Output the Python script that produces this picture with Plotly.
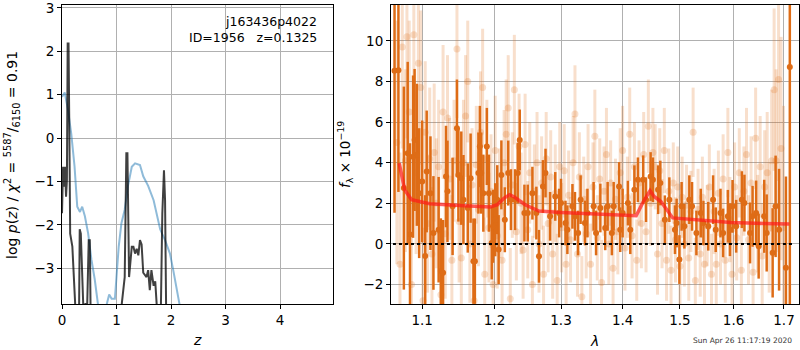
import plotly.graph_objects as go

# ---------------- left panel: redshift curves ----------------
blue_z = [0.0, 0.05, 0.11, 0.17, 0.23, 0.28, 0.33, 0.37, 0.42, 0.48, 0.54, 0.60, 0.66, 0.72, 0.78,
          0.82, 0.865, 0.91, 0.97, 1.0, 1.04, 1.09, 1.15, 1.21, 1.28, 1.34, 1.43, 1.49, 1.58, 1.68,
          1.74, 1.80, 1.89, 1.98, 2.04, 2.10, 2.15, 2.25, 2.4]
blue_val = [0.95, 1.05, 0.65, 0.1, -0.65, -1.58, -1.7, -1.58, -1.8, -2.2, -2.8, -3.25, -3.83, -4.4, -4.4,
            -3.83, -3.6, -3.7, -3.7, -3.2, -2.5, -1.96, -1.65, -1.1, -0.66, -0.58, -0.62, -0.88, -1.1, -1.43,
            -1.73, -2.1, -2.35, -2.66, -3.04, -3.5, -3.83, -4.5, -5.5]

dark_z = [0.0, 0.02, 0.037, 0.055, 0.074, 0.09, 0.104, 0.12, 0.135, 0.15, 0.19, 0.23, 0.26, 0.28, 0.31,
          0.325, 0.345, 0.36, 0.375, 0.39, 0.41, 0.43, 0.45, 0.49, 0.51, 0.53, 0.6, 0.8, 1.0, 1.08,
          1.12, 1.15, 1.18, 1.20, 1.23, 1.28, 1.31, 1.34, 1.37, 1.40, 1.43, 1.46, 1.49, 1.55, 1.58,
          1.61, 1.64, 1.68, 1.71, 1.74, 1.77, 1.81, 1.84, 1.87, 1.89, 1.91, 1.95, 2.1]
dark_val = [-1.73, -0.66, -1.12, -0.66, -1.35, -0.97, 2.18, 2.18, 0.1, -2.2, -2.5, -3.27, -3.83, -4.8, -4.5,
            -2.1, -2.2, -3.1, -3.4, -4.5, -4.6, -3.8, -4.5, -2.35, -2.35, -4.6, -5.5, -6.0, -5.5, -4.0,
            -3.5, -3.2, -0.35, -0.35, -3.2, -2.5, -2.5, -2.66, -2.55, -2.7, -2.35, -2.45, -3.1, -3.2, -3.04,
            -3.5, -3.04, -3.4, -3.3, -3.75, -4.5, -4.2, -1.73, -0.74, -1.43, -4.0, -5.5, -6.0]

# ---------------- right panel: spectrum ----------------
dk_wave = [1.064, 1.069, 1.076, 1.081, 1.084, 1.088, 1.090, 1.093, 1.096,
           1.100, 1.104, 1.106, 1.111, 1.115, 1.122, 1.125, 1.128, 1.132, 1.134,
           1.141, 1.147, 1.149, 1.153, 1.156, 1.162, 1.166, 1.170, 1.172, 1.177,
           1.179, 1.181, 1.184, 1.189, 1.192, 1.196, 1.198,
           1.201, 1.204, 1.206, 1.210, 1.215, 1.220, 1.224, 1.230, 1.234, 1.237,
           1.244, 1.249, 1.256, 1.262, 1.266, 1.272, 1.276, 1.283, 1.291, 1.297,
           1.300, 1.307, 1.310, 1.318, 1.322, 1.327, 1.331, 1.338, 1.342, 1.352,
           1.356, 1.363, 1.371, 1.375, 1.382, 1.385, 1.394, 1.396,
           1.400, 1.409, 1.413, 1.420, 1.426, 1.435, 1.440, 1.448, 1.452, 1.461,
           1.465, 1.473, 1.481, 1.491, 1.494, 1.499,
           1.503, 1.508, 1.517, 1.522, 1.530, 1.538, 1.543, 1.552, 1.561, 1.566,
           1.575, 1.580, 1.589, 1.593, 1.598,
           1.605, 1.616, 1.621, 1.632, 1.637, 1.644, 1.649, 1.660, 1.665, 1.677,
           1.683, 1.690, 1.704, 1.712]
dk_flux = [8.53, 8.56, 2.75, 4.47, 0.46, 4.3, 5.12, 4.39, 2.5,
           3.08, -0.6, 3.57, 2.5, 0.54, 0.70, -1.34, -1.42, 3.32, 2.59,
           1.85, 5.70, 3.40, 3.24, 2.18, 1.77, 3.24, -0.85, -0.85, 3.49,
           4.80, 3.49, 2.50, 4.80, 2.50, 0.05, 0.87,
           1.19, 2.18, -0.28, 3.40, 1.19, 3.49, 2.18, 2.18, 3.49, 5.12,
           1.52, 1.52, 2.50, 1.52, -0.61, 2.83, 3.49, 1.36, 2.34, 1.52,
           2.01, 1.03, 0.70, 1.85, 1.36, 0.54, 2.18, 1.03, 1.52, 1.85,
           0.54, 1.77, 0.79, 1.85, 0.54, 1.85, 2.83, 0.70,
           1.52, 2.01, 0.70, 2.67, 3.16, 3.16, 2.18, 3.32, 3.16, 2.67,
           3.00, 1.19, 2.18, 0.70, 1.03, -0.77,
           1.85, 0.87, 2.18, 1.85, 0.54, 1.52, 1.03, 0.87, 2.18, 0.70,
           1.52, 0.54, 1.36, 0.70, 1.85,
           0.87, 2.18, 2.01, 0.54, 1.36, 1.52, -0.11, 1.36, 0.54, -0.44,
           1.85, 0.70, -1.18, 8.72]
dk_err = [7.0, 6.0, 5.0, 4.5, 4.5, 4.0, 3.5, 3.5, 3.2,
          3.0, 3.0, 3.0, 2.8, 2.8, 2.6, 2.6, 2.6, 2.5, 2.5,
          2.4, 2.4, 2.3, 2.3, 2.2, 2.2, 2.2, 2.1, 2.1, 2.0,
          2.0, 2.0, 1.9, 1.9, 1.9, 1.8, 1.8,
          1.8, 1.7, 1.7, 1.7, 1.6, 1.6, 1.5, 1.5, 1.5, 1.5,
          1.4, 1.4, 1.3, 1.3, 1.3, 1.3, 1.2, 1.2, 1.2, 1.2,
          1.2, 1.1, 1.2, 1.1, 1.2, 1.1, 1.2, 1.1, 1.2, 1.2,
          1.1, 1.2, 1.1, 1.2, 1.1, 1.2, 1.2, 1.1,
          1.2, 1.1, 1.2, 1.2, 1.1, 1.2, 1.1, 1.2, 1.1, 1.2,
          1.1, 1.2, 1.1, 1.2, 1.2, 1.2,
          1.2, 1.1, 1.2, 1.2, 1.1, 1.2, 1.1, 1.2, 1.2, 1.1,
          1.2, 1.2, 1.3, 1.3, 1.3,
          1.3, 1.4, 1.4, 1.5, 1.5, 1.6, 1.6, 1.8, 1.9, 2.2,
          2.5, 3.0, 4.5, 12.0]

lt_wave = [1.067, 1.071, 1.074, 1.078, 1.080, 1.083, 1.086, 1.089, 1.092, 1.095, 1.098,
           1.101, 1.104, 1.107, 1.110, 1.113, 1.116, 1.119, 1.122, 1.125, 1.128,
           1.131, 1.134, 1.137, 1.140, 1.143, 1.147, 1.150, 1.153, 1.156, 1.159,
           1.162, 1.165, 1.168, 1.171, 1.174, 1.177, 1.180, 1.183, 1.186, 1.189,
           1.192, 1.195, 1.198,
           1.201, 1.204, 1.207, 1.211, 1.214, 1.217, 1.220, 1.223, 1.226, 1.229,
           1.232, 1.236, 1.239, 1.242, 1.245, 1.249, 1.252, 1.256, 1.259, 1.263,
           1.266, 1.270, 1.273, 1.277, 1.280, 1.284, 1.287, 1.291, 1.294, 1.298,
           1.301, 1.305, 1.308, 1.312, 1.315, 1.319, 1.322, 1.326, 1.329, 1.333,
           1.336, 1.340, 1.343, 1.347, 1.351, 1.354, 1.358, 1.362, 1.365, 1.369,
           1.373, 1.377, 1.380, 1.384, 1.388, 1.392, 1.396,
           1.400, 1.404, 1.408, 1.412, 1.416, 1.420, 1.424, 1.428, 1.432, 1.436,
           1.440, 1.444, 1.448, 1.452, 1.456, 1.460, 1.464, 1.468, 1.472, 1.476,
           1.480, 1.484, 1.488, 1.492, 1.496,
           1.500, 1.504, 1.508, 1.512, 1.516, 1.520, 1.524, 1.528, 1.533, 1.537,
           1.541, 1.545, 1.550, 1.554, 1.558, 1.563, 1.567, 1.571, 1.575, 1.580,
           1.584, 1.589, 1.593, 1.597,
           1.602, 1.606, 1.611, 1.615, 1.620, 1.625, 1.629, 1.634, 1.638, 1.643,
           1.647, 1.652, 1.656, 1.661, 1.666, 1.670, 1.675, 1.680, 1.684, 1.689,
           1.694, 1.699]
lt_flux = [5.0, -1.0, 9.7, 4.1, 10.2, 6.5, -2.0, 10.3, 3.5, 8.9, 7.7,
           -2.8, 5.5, 1.0, 4.2, -0.5, 4.5, 2.0, 3.8, -2.5, 6.5,
           0.5, 6.2, 3.2, -0.8, 4.1, 9.6, 1.1, -0.7, 4.0, 6.3,
           8.0, 0.0, 2.9, -2.8, 3.9, 1.7, 5.5, 7.7, -1.5, 4.2,
           0.8, 2.6, -2.0,
           4.6, 0.4, 2.0, -0.8, 4.0, 5.4, 6.7, -2.7, 2.9, 7.6,
           0.6, 4.8, 2.0, -0.3, 4.9, 0.7, 3.5, -2.0, 2.6, 4.0,
           0.0, 3.0, -1.5, 4.2, 1.0, 3.3, -0.5, 2.5, -1.8, 3.8,
           0.8, 3.6, -1.0, 2.4, 0.2, 4.0, 6.4, -0.5, 3.3, -2.6,
           2.2, 0.5, 3.8, -1.0, 2.8, 5.3, 0.3, 3.2, -1.9, 2.6,
           4.4, 0.0, 3.0, -1.2, 2.2, 0.6, 3.5,
           4.6, -0.2, 2.3, 5.4, 0.4, 3.8, -0.8, 3.0, 1.0, 4.4,
           0.6, 5.8, 2.0, 4.5, 3.8, -0.5, 3.6, 1.0, 4.6, -0.8,
           2.6, -1.3, 3.0, 0.2, 2.8,
           -1.1, 2.3, 0.0, 1.9, -0.7, 1.6, 5.5, -1.8, 1.7, -0.5,
           2.3, -1.0, 0.9, 2.8, -1.5, 1.6, -1.0, 2.5, 0.0, 3.2,
           -0.8, 4.5, 1.2, -1.5,
           2.8, 0.3, 3.5, -1.3, 2.6, 4.4, 0.2, 3.0, -1.4, 5.2,
           1.0, 3.8, -0.6, 2.8, 3.5, 0.8, 4.1, 7.6, 4.1, 8.1,
           4.7, 0.8]
lt_err = [6.0, 5.5, 5.0, 4.5, 5.0, 4.5, 4.2, 5.0, 4.0, 4.0, 3.8,
          3.6, 3.5, 3.4, 3.5, 3.3, 3.4, 3.2, 3.3, 3.1, 3.3,
          3.2, 3.1, 3.0, 3.2, 3.0, 3.4, 3.0, 2.9, 3.1, 3.0,
          3.0, 2.9, 2.8, 3.0, 2.9, 2.8, 3.0, 2.9, 2.8, 2.9,
          2.7, 2.8, 2.7,
          2.7, 2.6, 2.7, 2.5, 2.6, 2.7, 2.6, 2.5, 2.6, 2.7,
          2.4, 2.6, 2.5, 2.4, 2.5, 2.4, 2.5, 2.4, 2.3, 2.5,
          2.4, 2.3, 2.4, 2.3, 2.4, 2.3, 2.2, 2.4, 2.3, 2.2,
          2.2, 2.3, 2.1, 2.2, 2.1, 2.3, 2.4, 2.1, 2.2, 2.0,
          2.1, 2.2, 2.1, 2.0, 2.2, 2.3, 2.1, 2.0, 2.1, 2.2,
          2.3, 2.0, 2.1, 2.2, 2.0, 2.1, 2.2,
          2.2, 2.1, 2.0, 2.3, 2.1, 2.2, 2.0, 2.1, 2.2, 2.1,
          2.0, 2.3, 2.1, 2.2, 2.1, 2.0, 2.1, 2.2, 2.1, 2.0,
          2.1, 2.2, 2.0, 2.1, 2.0,
          2.1, 2.0, 2.1, 2.0, 2.1, 2.0, 2.2, 2.1, 2.0, 2.1,
          2.0, 2.1, 2.0, 2.1, 2.0, 2.1, 2.0, 2.1, 2.0, 2.2,
          2.1, 2.2, 2.1, 2.2,
          2.2, 2.1, 2.2, 2.3, 2.2, 2.3, 2.2, 2.3, 2.4, 2.5,
          2.4, 2.5, 2.6, 2.8, 3.0, 3.2, 3.5, 4.0, 4.5, 5.0,
          5.5, 6.0]

model_wave = [1.070, 1.077, 1.086, 1.097, 1.110, 1.157, 1.194, 1.204, 1.214, 1.222, 1.229,
              1.245, 1.266, 1.300, 1.354, 1.414, 1.423, 1.434, 1.447, 1.454, 1.466, 1.487,
              1.532, 1.595, 1.660, 1.711]
model_flux = [3.98, 2.67, 2.18, 2.09, 1.98, 1.88, 1.82, 1.93, 2.26, 2.42, 2.31,
              1.93, 1.62, 1.55, 1.47, 1.39, 1.39, 2.01, 2.62, 2.34, 2.09, 1.28,
              1.19, 1.06, 1.00, 0.98]

zero_wave = [1.062, 1.722]
zero_flux = [0.0, 0.0]

z_ticks = [0, 1, 2, 3, 4]
logp_ticks = [-3, -2, -1, 0, 1, 2, 3]
wave_ticks = [1.1, 1.2, 1.3, 1.4, 1.5, 1.6, 1.7]
wave_ticktext = ["1.1", "1.2", "1.3", "1.4", "1.5", "1.6", "1.7"]
flux_ticks = [-2, 0, 2, 4, 6, 8, 10]

ORANGE = "rgb(222,108,22)"
ORANGE_LT = "rgba(222,108,22,0.22)"

fig = go.Figure()
fig.add_trace(go.Scatter(x=blue_z, y=blue_val, mode="lines",
                         line=dict(color="rgba(31,119,180,0.5)", width=2), xaxis="x", yaxis="y"))
fig.add_trace(go.Scatter(x=dark_z, y=dark_val, mode="lines",
                         line=dict(color="rgba(0,0,0,0.75)", width=2), xaxis="x", yaxis="y"))

fig.add_trace(go.Scatter(x=lt_wave, y=lt_flux, mode="markers",
                         marker=dict(size=7, color=ORANGE_LT),
                         error_y=dict(type="data", array=lt_err, thickness=3, width=0, color=ORANGE_LT),
                         xaxis="x2", yaxis="y2"))
fig.add_trace(go.Scatter(x=dk_wave, y=dk_flux, mode="markers",
                         marker=dict(size=6, color=ORANGE),
                         error_y=dict(type="data", array=dk_err, thickness=2.5, width=0, color=ORANGE),
                         xaxis="x2", yaxis="y2"))
fig.add_trace(go.Scatter(x=model_wave, y=model_flux, mode="lines",
                         line=dict(color="rgba(255,25,25,0.7)", width=3.5), xaxis="x2", yaxis="y2"))
fig.add_trace(go.Scatter(x=zero_wave, y=zero_flux, mode="lines",
                         line=dict(color="black", width=2, dash="dot"), xaxis="x2", yaxis="y2"))

axis_common = dict(showgrid=True, gridcolor="#b0b0b0", gridwidth=1, zeroline=False,
                   showline=True, linecolor="black", linewidth=1, mirror=True,
                   ticks="outside", ticklen=4, tickcolor="black", automargin=False,
                   ticklabeloverflow="allow", tickfont=dict(size=13.5))

YD = [1 - 304 / 350, 1 - 5 / 350]
fig.update_layout(
    width=800, height=350, margin=dict(l=0, r=0, t=0, b=0),
    paper_bgcolor="white", plot_bgcolor="white", showlegend=False,
    font=dict(family="DejaVu Sans", size=13.5, color="black"),
    xaxis=dict(domain=[62 / 800, 333 / 800], range=[0, 4.97], tickvals=z_ticks, anchor="y", **axis_common),
    yaxis=dict(domain=YD, range=[-3.82, 3.065], tickvals=logp_ticks, anchor="x", **axis_common),
    xaxis2=dict(domain=[391 / 800, 799 / 800], type="log", range=[0.0251, 0.2383],
                tickvals=wave_ticks, ticktext=wave_ticktext, anchor="y2", **axis_common),
    yaxis2=dict(domain=YD, range=[-2.96, 11.77], tickvals=flux_ticks, anchor="x2", **axis_common),
)

ann = [
    dict(text="j163436p4022", x=319 / 800, y=1 - 22 / 350, xanchor="right", yanchor="middle",
         font=dict(size=12.5)),
    dict(text="ID=1956   z=0.1325", x=319 / 800, y=1 - 37 / 350, xanchor="right", yanchor="middle",
         font=dict(size=12.5)),
    dict(text="log <i>p</i>(<i>z</i>) / <i>χ</i><sup>2</sup> = <sup>5587</sup>/<sub>6150</sub> = 0.91",
         x=12 / 800, y=1 - 155 / 350, textangle=-90, xanchor="center", yanchor="middle",
         font=dict(size=14)),
    dict(text="<i>f</i><sub>λ</sub> × 10<sup>−19</sup>", x=345 / 800, y=1 - 155 / 350, textangle=-90,
         xanchor="center", yanchor="middle", font=dict(size=13.5)),
    dict(text="<i>z</i>", x=197 / 800, y=1 - 340 / 350, xanchor="center", yanchor="middle",
         font=dict(size=14)),
    dict(text="<i>λ</i>", x=594 / 800, y=1 - 341 / 350, xanchor="center", yanchor="middle",
         font=dict(size=14)),
    dict(text="Sun Apr 26 11:17:19 2020", x=742 / 800, y=1 - 340 / 350, xanchor="center",
         yanchor="middle", font=dict(size=7.5, color="#333333")),
]
for a in ann:
    a.update(xref="paper", yref="paper", showarrow=False)
fig.update_layout(annotations=ann)

fig.write_html("out.html", config={"displayModeBar": False},
               post_script="document.body.style.margin='0';document.body.style.overflow='hidden';")
